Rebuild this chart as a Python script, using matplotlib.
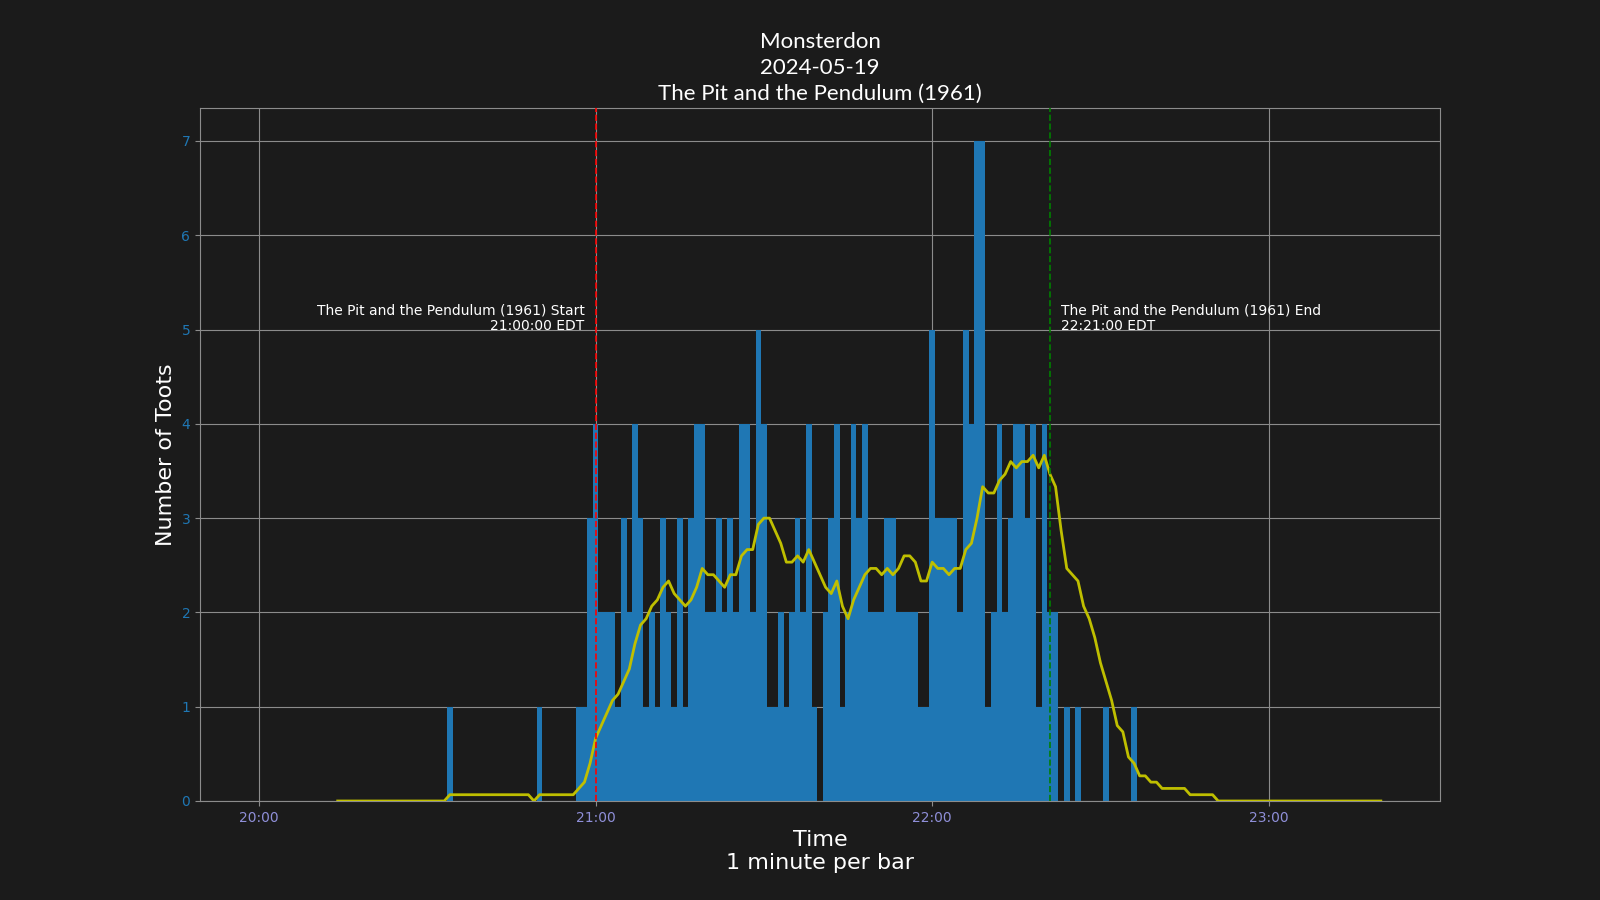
import matplotlib
matplotlib.use("Agg")
import matplotlib.pyplot as plt
import matplotlib.dates as mdates
import numpy as np
import pandas as pd

BG = "#1b1b1b"
GRID = "#8c8c8c"

# toots per minute, 20:00 .. 23:20 EDT (only non-zero minutes listed)
start_time = "2024-05-19 20:00"
n_minutes = 201
toot_minutes = [34, 50, 57, 58, 59,
                60, 61, 62, 63, 64, 65, 66, 67, 68, 69,
                70, 71, 72, 73, 74, 75, 76, 77, 78, 79,
                80, 81, 82, 83, 84, 85, 86, 87, 88, 89,
                90, 91, 92, 93, 94, 95, 96, 97, 98, 99,
                101, 102, 103, 104, 105, 106, 107, 108, 109,
                110, 111, 112, 113, 114, 115, 116, 117, 118, 119,
                120, 121, 122, 123, 124, 125, 126, 127, 128, 129,
                130, 131, 132, 133, 134, 135, 136, 137, 138, 139,
                140, 141, 142, 144, 146, 151, 156]
toot_counts = [1, 1, 1, 1, 3,
               4, 2, 2, 2, 1, 3, 2, 4, 3, 1,
               2, 1, 3, 2, 1, 3, 1, 3, 4, 4,
               2, 2, 3, 2, 3, 2, 4, 4, 2, 5,
               4, 1, 1, 2, 1, 2, 3, 2, 4, 1,
               2, 3, 4, 1, 2, 4, 3, 4, 2,
               2, 2, 3, 3, 2, 2, 2, 2, 1, 1,
               5, 3, 3, 3, 3, 2, 5, 4, 7, 7,
               1, 2, 4, 2, 3, 4, 4, 3, 4, 1,
               4, 2, 2, 1, 1, 1, 1]

movie = "The Pit and the Pendulum (1961)"
movie_start = "2024-05-19 21:00"
movie_end = "2024-05-19 22:21"

times = pd.date_range(start_time, periods=n_minutes, freq="1min")
counts = pd.Series(0, index=times)
for m, c in zip(toot_minutes, toot_counts):
    counts.iloc[m] = c
rolling = counts.rolling(15).mean()

plt.rcParams["font.family"] = ["DejaVu Sans"]
fig, ax = plt.subplots(figsize=(16, 9), dpi=100)
fig.patch.set_facecolor(BG)
ax.set_facecolor(BG)

ax.bar(times, counts.values, width=1 / 1440, color="#1f77b4", zorder=2)
ax.plot(times, rolling.values, color="#bfbf00", lw=2, zorder=3)

t0 = pd.Timestamp(movie_start)
t1 = pd.Timestamp(movie_end)
ax.axvline(t0, color="red", ls="--", lw=1.2, zorder=4)
ax.axvline(t1, color="green", ls="--", lw=1.2, zorder=4)
ax.text(t0 - pd.Timedelta(minutes=2), 4.96, movie + " Start\n" + "21:00:00 EDT",
        ha="right", va="bottom", color="white", fontsize=10)
ax.text(t1 + pd.Timedelta(minutes=2), 4.96, movie + " End\n" + "22:21:00 EDT",
        ha="left", va="bottom", color="white", fontsize=10)

ax.xaxis.set_major_locator(mdates.HourLocator())
ax.xaxis.set_major_formatter(mdates.DateFormatter("%H:%M"))
ax.tick_params(axis="x", colors=GRID, labelcolor="#8f8fd8")
ax.tick_params(axis="y", colors=GRID, labelcolor="#1f77b4")
ax.grid(True, color=GRID, lw=0.8, zorder=0)
ax.set_axisbelow(True)
for s in ax.spines.values():
    s.set_color(GRID)

ax.set_xlabel("Time\n1 minute per bar", color="white", fontsize=16)
ax.set_ylabel("Number of Toots", color="white", fontsize=16)
ax.set_title("Monsterdon\n2024-05-19\n" + movie, color="white", fontsize=16,
             family="Lato", linespacing=1.35)

fig.savefig("out.png", facecolor=BG)
